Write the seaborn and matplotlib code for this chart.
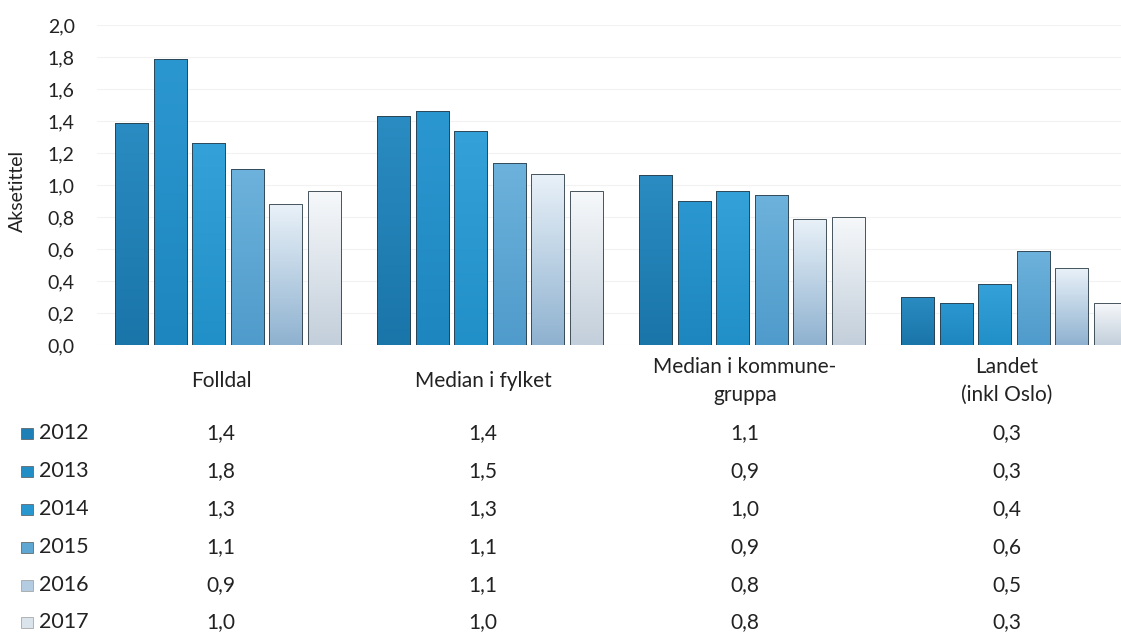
import numpy as np
import pandas as pd
import matplotlib.pyplot as plt
import seaborn as sns
from matplotlib.patches import Rectangle
from matplotlib.colors import LinearSegmentedColormap
from matplotlib.transforms import blended_transform_factory, ScaledTranslation
from matplotlib.ticker import FuncFormatter

categories = ['Folldal', 'Median i fylket', 'Median i kommune-\ngruppa', 'Landet\n(inkl Oslo)']
years = ['2012', '2013', '2014', '2015', '2016', '2017']

# values (table below shows them rounded)
v2012 = [1.39, 1.43, 1.06, 0.30]
v2013 = [1.79, 1.46, 0.90, 0.26]
v2014 = [1.26, 1.34, 0.96, 0.38]
v2015 = [1.10, 1.14, 0.94, 0.59]
v2016 = [0.88, 1.07, 0.79, 0.48]
v2017 = [0.96, 0.96, 0.80, 0.26]
values = [v2012, v2013, v2014, v2015, v2016, v2017]

# gradient colours per year (bottom, top)
bottom_colors = ['#1a75a9', '#1e86bf', '#2290c8', '#4f9bcb', '#8fb2d0', '#c3cfdb']
top_colors = ['#2a8cc2', '#2b97d0', '#34a2d8', '#6db2dc', '#e9f1f8', '#f6f8fa']
mid_colors = ['#1f80b7', '#238dc6', '#2897cf', '#5ea7d3', '#b4cce2', '#dbe3eb']

df = pd.DataFrame({
    'kategori': categories * len(years),
    'aar': np.repeat(years, len(categories)),
    'verdi': np.concatenate(values),
})

sns.set_style('white')
plt.rcParams['font.family'] = ['Lato', 'DejaVu Sans']

W, H = 1121, 632
fig = plt.figure(figsize=(W / 100, H / 100), dpi=100)
ax = fig.add_axes([97 / W, 1 - 345 / H, 1048 / W, 320 / H])

sns.barplot(data=df, x='kategori', y='verdi', hue='aar', palette=mid_colors,
            width=0.88, gap=0.14, edgecolor='#2b3a44', linewidth=0.6,
            legend=False, ax=ax)

# paint a vertical gradient inside every bar
grad = np.linspace(0, 1, 100).reshape(-1, 1)
for i, cont in enumerate(ax.containers):
    cmap = LinearSegmentedColormap.from_list('g%d' % i, [bottom_colors[i], top_colors[i]])
    for bar in cont:
        x0, y0 = bar.get_x(), bar.get_y()
        im = ax.imshow(grad, extent=[x0, x0 + bar.get_width(), y0, y0 + bar.get_height()],
                       origin='lower', aspect='auto', cmap=cmap, zorder=bar.get_zorder())
        im.set_clip_path(bar)
        bar.set_facecolor('none')
        bar.set_zorder(bar.get_zorder() + 0.1)

ax.set_xlim(-0.5, 3.5)
ax.set_ylim(0, 2.0)
ax.set_yticks(np.arange(0, 2.01, 0.2))
ax.yaxis.set_major_formatter(FuncFormatter(lambda v, p: f'{v:.1f}'.replace('.', ',')))
ax.tick_params(axis='y', length=0, labelsize=14, labelcolor='#222222', pad=16)
ax.set_xticks([])
ax.set_xlabel('')
ax.set_ylabel('Aksetittel', fontsize=14, color='#222222')
ax.yaxis.set_label_coords(-0.068, 0.48)
ax.grid(axis='y', color='#f2f2f2', linewidth=0.8)
ax.set_axisbelow(True)
for s in ax.spines.values():
    s.set_visible(False)

# text below the bars sits a few pixels left of the bar groups
trans = blended_transform_factory(ax.transData, fig.transFigure) + \
    ScaledTranslation(-0.07, 0, fig.dpi_scale_trans)

# category labels
for j, cat in enumerate(categories):
    ax.text(j, 1 - 381 / H, cat, transform=trans, ha='center', va='center',
            fontsize=15, color='#222222', multialignment='center', linespacing=1.45)

# data table
row_y = [433, 471, 509, 547, 585, 622]
for i, yr in enumerate(years):
    yf = 1 - row_y[i] / H
    fig.add_artist(Rectangle((21 / W, yf - 5.5 / H), 12 / W, 11 / H,
                             transform=fig.transFigure, facecolor=mid_colors[i],
                             edgecolor='#555555' if i < 4 else '#999999', linewidth=0.5))
    fig.text(39 / W, yf, yr, ha='left', va='center', fontsize=15.5, color='#222222')
    for j in range(len(categories)):
        txt = f'{values[i][j]:.1f}'.replace('.', ',')
        ax.text(j, yf, txt, transform=trans, ha='center', va='center',
                fontsize=15, color='#222222')

fig.savefig('out.png', dpi=100)
